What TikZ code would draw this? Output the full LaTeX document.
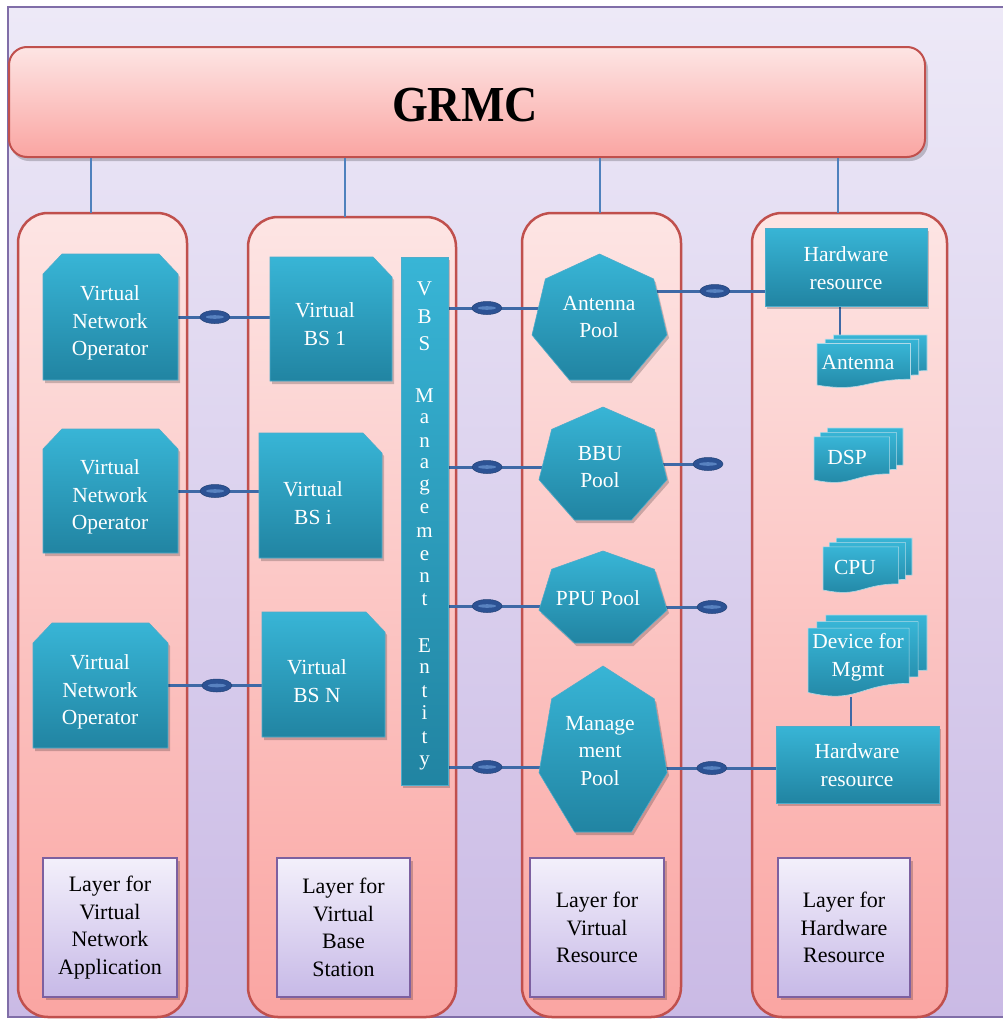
\documentclass[tikz,border=0pt]{standalone}
\usepackage{fontspec}
\usepackage{graphicx}
\setmainfont{Liberation Serif}
\usetikzlibrary{shapes.geometric,fit}
\pgfdeclarelayer{back}
\pgfdeclarelayer{mid}
\pgfsetlayers{back,mid,main}

\definecolor{tealtop}{RGB}{56,181,214}
\definecolor{tealbot}{RGB}{33,132,162}
\definecolor{tealedge}{RGB}{78,172,203}
\definecolor{pinktop}{RGB}{253,229,228}
\definecolor{pinkbot}{RGB}{250,165,162}
\definecolor{redline}{RGB}{192,80,77}
\definecolor{lavtop}{RGB}{237,233,247}
\definecolor{lavbot}{RGB}{202,186,229}
\definecolor{frameline}{RGB}{128,110,168}
\definecolor{laytop}{RGB}{243,240,251}
\definecolor{laybot}{RGB}{199,185,231}
\definecolor{layline}{RGB}{125,96,160}
\definecolor{linkblue}{RGB}{62,105,166}
\definecolor{thinblue}{RGB}{79,129,189}
\definecolor{connfill}{RGB}{44,82,148}
\definecolor{connhl}{RGB}{88,130,192}

\newcommand\tshape[1]{\path[shadowfill,shift={(2,3)}] #1; \path[tealfill] #1;}
\newcommand\snipTwo[4]{\tshape{({#1},{#2+20}) -- ({#1+19},{#2}) -- ({#3-19},{#2}) -- ({#3},{#2+20}) -- ({#3},{#4}) -- ({#1},{#4}) -- cycle}}
\newcommand\snipOne[4]{\tshape{({#1},{#2}) -- ({#3-19},{#2}) -- ({#3},{#2+20}) -- ({#3},{#4}) -- ({#1},{#4}) -- cycle}}
\newcommand\hepta[4]{\tshape{({#1+0.5*(#3-#1)},{#2}) -- ({#1+0.901*(#3-#1)},{#2+0.198*(#4-#2)}) -- ({#3},{#2+0.643*(#4-#2)}) -- ({#1+0.7226*(#3-#1)},{#4}) -- ({#1+0.2774*(#3-#1)},{#4}) -- ({#1},{#2+0.643*(#4-#2)}) -- ({#1+0.099*(#3-#1)},{#2+0.198*(#4-#2)}) -- cycle}}
\newcommand\rectshape[4]{\tshape{({#1},{#2}) rectangle ({#3},{#4})}}
\newcommand\docpage[4]{%
 \path[tealfill, draw=white!55!tealedge] ({#1},{#2}) -- ({#1+#3},{#2}) -- ({#1+#3},{#2+0.802*#4}) .. controls ({#1+0.5*#3},{#2+0.802*#4}) and ({#1+0.5*#3},{#2+1.107*#4}) .. ({#1},{#2+0.934*#4}) -- cycle;}
\newcommand\mdoc[4]{%
 \pgfmathsetmacro\mdw{#3-#1}\pgfmathsetmacro\mdh{#4-#2}%
 \pgfmathsetmacro\mdx{0.075*\mdw}\pgfmathsetmacro\mdy{0.08*\mdh}%
 \pgfmathsetmacro\mdpw{\mdw-2*\mdx}\pgfmathsetmacro\mdph{\mdh-2*\mdy}%
 \docpage{#1+2*\mdx}{#2}{\mdpw}{\mdph}%
 \docpage{#1+\mdx}{#2+\mdy}{\mdpw}{\mdph}%
 \docpage{#1}{#2+2*\mdy}{\mdpw}{\mdph}}
\newcommand\anch[5]{\node[inner sep=0pt, fit={(#2,#3) (#4,#5)}] (#1) {};}

\begin{document}
\begin{tikzpicture}[x=1pt,y=-1pt,
 tealfill/.style={top color=tealtop, bottom color=tealbot, draw=tealedge, line width=0.6pt},
 shadowfill/.style={fill=black, opacity=0.2},
 framebox/.style={top color=lavtop, bottom color=lavbot, inner sep=0pt},
 grmcbox/.style={draw=redline, line width=2pt, top color=pinktop, bottom color=pinkbot, rounded corners=18pt, inner sep=0pt},
 colbox/.style={draw=redline, line width=2.5pt, top color=pinktop, bottom color=pinkbot, rounded corners=30pt, inner sep=0pt},
 laybox/.style={draw=layline, line width=2pt, top color=laytop, bottom color=laybot, inner sep=0pt, align=center, font=\fontsize{22}{27.5}\selectfont},
 tt/.style={text=white, align=center, inner sep=0pt, font=\fontsize{21.5}{27.5}\selectfont},
 vl/.style={text=white, inner sep=0pt, anchor=base, font=\fontsize{21}{22}\selectfont},
 link/.style={draw=linkblue, line width=3pt},
 thinlink/.style={draw=thinblue, line width=1.2pt},
 droplink/.style={draw=linkblue, line width=1.6pt},
 conn/.style={ellipse, minimum width=30pt, minimum height=13pt, inner sep=0pt, fill=connfill, draw=connfill!80!black, line width=0.5pt,
   path picture={\fill[connhl] (path picture bounding box.center) ellipse [x radius=9pt, y radius=1.8pt];}}
]
\useasboundingbox (0,0) rectangle (1003,1020);

\begin{pgfonlayer}{back}
\node[framebox, minimum width=1030pt, minimum height=1010pt] (frame) at (523,512) {};
\draw[frameline, line width=2pt] (frame.north east) -- (frame.north west) -- (frame.south west) -- (frame.south east);
\fill[shadowfill, rounded corners=18pt] (11,51) rectangle (928,161);
\node[grmcbox, minimum width=916pt, minimum height=110pt] (grmc) at (467,102) {};
\node[colbox, minimum width=169pt, minimum height=804pt] (col1) at (102.5,615) {};
\node[colbox, minimum width=208pt, minimum height=800pt] (col2) at (352,617) {};
\node[colbox, minimum width=159pt, minimum height=804pt] (col3) at (601.5,615) {};
\node[colbox, minimum width=195pt, minimum height=804pt] (col4) at (849.5,615) {};
\fill[shadowfill] (46,861) rectangle (180,1000);
\fill[shadowfill] (280,861) rectangle (413,1000);
\fill[shadowfill] (533,861) rectangle (667,1000);
\fill[shadowfill] (781,861) rectangle (913,1000);
\node[laybox, minimum width=134pt, minimum height=139pt] (lay1) at (110,927.5) {Layer for\\Virtual\\Network\\Application};
\node[laybox, minimum width=133pt, minimum height=139pt] (lay2) at (343.5,927.5) {Layer for\\Virtual\\Base\\Station};
\node[laybox, minimum width=134pt, minimum height=139pt] (lay3) at (597,927.5) {Layer for\\Virtual\\Resource};
\node[laybox, minimum width=132pt, minimum height=139pt] (lay4) at (844,927.5) {Layer for\\Hardware\\Resource};
\end{pgfonlayer}

\node[inner sep=0pt, font=\fontsize{48}{52}\selectfont\bfseries] (grmct) at (465,105) {\scalebox{0.96}[1.05]{GRMC}};

% teal shapes
\snipTwo{43}{254}{178}{380}
\snipTwo{43}{429}{178}{553}
\snipTwo{33}{623}{168}{748}
\snipOne{270}{257}{392}{381}
\snipOne{259}{433}{382}{558}
\snipOne{262}{612}{385}{737}
\rectshape{401}{257}{448}{785}
\hepta{532}{254}{667}{380}
\hepta{539}{407}{667}{520}
\hepta{539}{551}{667}{643}
\hepta{539}{666}{667}{832}
\rectshape{765}{228}{927}{306}
\rectshape{776}{726}{939}{803}
\mdoc{817}{335}{927}{388}
\mdoc{814}{428}{903}{483}
\mdoc{823}{538}{912}{593}
\mdoc{808}{615}{927}{697}

% anchor boxes
\anch{vno1}{43}{254}{178}{380}
\anch{vno2}{43}{429}{178}{553}
\anch{vno3}{33}{623}{168}{748}
\anch{bs1}{270}{257}{392}{381}
\anch{bsi}{259}{433}{382}{558}
\anch{bsn}{262}{612}{385}{737}
\anch{vbs}{401}{257}{448}{785}
\anch{ant}{532}{254}{667}{380}
\anch{bbu}{539}{407}{667}{520}
\anch{ppu}{539}{551}{667}{643}
\anch{mgmt}{539}{666}{667}{832}
\anch{hw1}{765}{228}{927}{306}
\anch{hw2}{776}{726}{939}{803}
\anch{antd}{817}{335}{927}{388}
\anch{dsp}{814}{428}{903}{483}
\anch{cpu}{823}{538}{912}{593}
\anch{dev}{808}{615}{927}{697}

% texts
\node[tt] (vno1t) at (110,323) {Virtual\\Network\\Operator};
\node[tt] (vno2t) at (110,497) {Virtual\\Network\\Operator};
\node[tt] (vno3t) at (100,692) {Virtual\\Network\\Operator};
\node[tt] (bs1t) at (325,324) {Virtual\\BS 1};
\node[tt] (bsit) at (313,503) {Virtual\\BS i};
\node[tt] (bsnt) at (317,681) {Virtual\\BS N};
\node[tt] (antt) at (599,317) {Antenna\\Pool};
\node[tt] (bbut) at (600,467) {BBU\\Pool};
\node[tt] (pput) at (598,598) {PPU Pool};
\node[tt] (mgmtt) at (600,751) {Manage\\ment\\Pool};
\node[tt] (hw1t) at (846,268) {Hardware\\resource};
\node[tt] (hw2t) at (857,765) {Hardware\\resource};
\node[tt] (antdt) at (858,363) {Antenna};
\node[tt] (dspt) at (847,457) {DSP};
\node[tt] (cput) at (855,567) {CPU};
\node[tt] (devt) at (858,657) {Device for\\Mgmt};
\foreach \l/\yy [count=\i] in {V/295,B/323,S/350,M/402,a/423,n/447,a/468,g/490,e/513,m/537,e/560,n/582,t/605,E/652,n/673,t/697,i/719,t/743,y/765}
  \node[vl] (vl\i) at (424.5,\yy) {\l};

% connector coordinates
\coordinate (t1) at (91,213);
\coordinate (t2) at (345,217);
\coordinate (t3) at (600,213);
\coordinate (t4) at (838,213);
\coordinate (antL) at (550,308);
\coordinate (bbuL) at (555,467);
\coordinate (ppuL) at (555,606);
\coordinate (mgmtL) at (555,767);
\coordinate (antR) at (650,291);
\coordinate (bbuR) at (655,464);
\coordinate (bbuE) at (708,464);
\coordinate (ppuR) at (655,607);
\coordinate (ppuE) at (712,607);
\coordinate (mgmtR) at (655,768);
\coordinate (h1b) at (840,306);
\coordinate (h2t) at (851,726);

\begin{pgfonlayer}{mid}
\foreach \t in {t1,t2,t3,t4} \draw[thinlink] (\t) -- (\t |- grmc.south);
\draw[link] (vno1.east) -- (vno1.east -| bs1.west) node[conn, pos=0.40] (e1) {};
\draw[link] (vno2.east) -- (vno2.east -| bsi.west) node[conn, pos=0.457] (e2) {};
\draw[link] (vno3.east) -- (vno3.east -| bsn.west) node[conn, pos=0.52] (e3) {};
\draw[link] (vbs.east |- antL) -- (antL) node[conn, pos=0.38] (e4) {};
\draw[link] (vbs.east |- bbuL) -- (bbuL) node[conn, pos=0.364] (e5) {};
\draw[link] (vbs.east |- ppuL) -- (ppuL) node[conn, pos=0.364] (e6) {};
\draw[link] (vbs.east |- mgmtL) -- (mgmtL) node[conn, pos=0.364] (e7) {};
\draw[link] (antR) -- (antR -| hw1.west) node[conn, pos=0.565] (e8) {};
\draw[link] (bbuR) -- (bbuE) node[conn, pos=1] (e9) {};
\draw[link] (ppuR) -- (ppuE) node[conn, pos=1] (e10) {};
\draw[link] (mgmtR) -- (mgmtR -| hw2.west) node[conn, pos=0.47] (e11) {};
\draw[droplink] (h1b) -- (h1b |- antd.north);
\draw[droplink] (h2t) -- (h2t |- dev.south);
\end{pgfonlayer}
\end{tikzpicture}
\end{document}
